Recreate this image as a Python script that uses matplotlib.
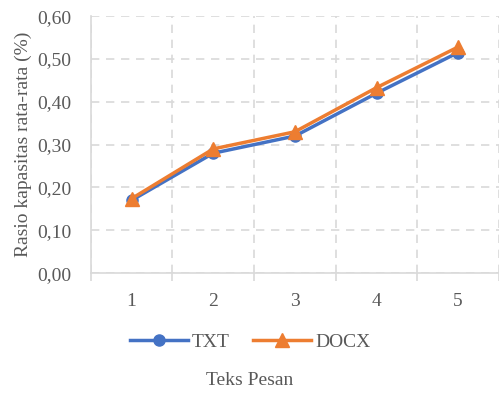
import matplotlib
matplotlib.use("Agg")
import matplotlib.pyplot as plt
from matplotlib.ticker import FuncFormatter, FixedLocator

categories = [1, 2, 3, 4, 5]
txt = [0.17, 0.28, 0.32, 0.42, 0.515]
docx = [0.174, 0.29, 0.33, 0.433, 0.528]
y_ticks = [0.0, 0.1, 0.2, 0.3, 0.4, 0.5, 0.6]

plt.rcParams["font.family"] = ["Liberation Serif", "DejaVu Serif"]
TEXT = "#595959"
GRID = "#d9d9d9"
FS = 14

fig = plt.figure(figsize=(4.99, 3.93), dpi=100)
ax = fig.add_axes([0.182, 0.305, 0.818, 0.654])

ax.plot(categories, txt, color="#4472c4", lw=2.5, marker="o", ms=8, label="TXT", zorder=3)
ax.plot(categories, docx, color="#ed7d31", lw=2.5, marker="^", ms=10, label="DOCX", zorder=4)

ax.set_xlim(0.5, 5.5)
ax.set_ylim(0, 0.6)
ax.set_yticks(y_ticks)
ax.yaxis.set_major_formatter(FuncFormatter(lambda v, p: f"{v:.2f}".replace(".", ",")))
ax.set_xticks(categories)
ax.xaxis.set_minor_locator(FixedLocator([0.5, 1.5, 2.5, 3.5, 4.5, 5.5]))

ax.grid(True, axis="y", which="major", color=GRID, ls=(0, (5, 4)), lw=1.2)
ax.grid(True, axis="x", which="minor", color=GRID, ls=(0, (5, 4)), lw=1.2)
ax.set_axisbelow(True)

for s in ["top", "right"]:
    ax.spines[s].set_visible(False)
for s in ["left", "bottom"]:
    ax.spines[s].set_color(GRID)
    ax.spines[s].set_linewidth(1.2)

ax.tick_params(axis="y", length=0, pad=14, labelsize=FS, labelcolor=TEXT)
ax.tick_params(axis="x", which="major", length=0, pad=14, labelsize=FS, labelcolor=TEXT)
ax.tick_params(axis="x", which="minor", length=6, width=1.2, color=GRID)

ax.set_ylabel("Rasio kapasitas rata-rata (%)", fontsize=FS, color=TEXT, labelpad=4)
fig.text(0.5, 0.02, "Teks Pesan", ha="center", fontsize=FS, color=TEXT)

ax.legend(loc="center", bbox_to_anchor=(0.39, -0.268), ncol=2, frameon=False,
          fontsize=FS, labelcolor=TEXT, handlelength=3.0, handletextpad=0.2,
          columnspacing=1.2)

fig.savefig("out.png", dpi=100)
